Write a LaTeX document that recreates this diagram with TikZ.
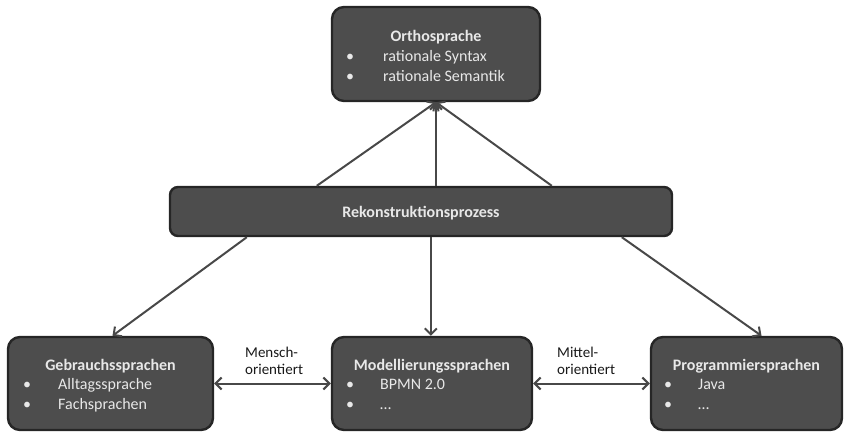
\documentclass[tikz,border=0pt]{standalone}
\usepackage{fontspec}
\setmainfont{Carlito}
\usetikzlibrary{arrows.meta,calc}
\definecolor{boxfill}{RGB}{77,77,77}
\definecolor{boxline}{RGB}{38,38,38}
\definecolor{txt}{RGB}{232,232,232}
\definecolor{arrowc}{RGB}{72,72,72}
\definecolor{lbltxt}{RGB}{25,25,25}
\begin{document}
\begin{tikzpicture}[x=1pt,y=-1pt,
  box/.style={draw=boxline, fill=boxfill, line width=2.4pt, rounded corners=12pt, inner sep=0pt},
  ttl/.style={font=\fontsize{16}{19}\selectfont\bfseries, text=txt, anchor=base, inner sep=0pt},
  itm/.style={font=\fontsize{16}{19}\selectfont, text=txt, anchor=base west, inner sep=0pt},
  bul/.style={font=\fontsize{16}{19}\selectfont, text=txt, anchor=base, inner sep=0pt},
  lbl/.style={font=\fontsize{15}{18}\selectfont, text=lbltxt, anchor=base west, inner sep=0pt},
  arr/.style={draw=arrowc, line width=2pt, -{Straight Barb[length=6pt,width=12pt]}},
  darr/.style={draw=arrowc, line width=2pt, {Straight Barb[length=6pt,width=12pt]}-{Straight Barb[length=6pt,width=12pt]}},
]
\useasboundingbox (0,0) rectangle (861,431);

% boxes
\node[box, minimum width=208pt, minimum height=94pt] (ortho) at (436,54) {};
\node[box, rounded corners=8pt, minimum width=502pt, minimum height=49pt] (rekon) at (421,211.5) {};
\node[box, minimum width=205pt, minimum height=93pt] (gebr) at (110.5,383.5) {};
\node[box, minimum width=200pt, minimum height=93pt] (model) at (432,383.5) {};
\node[box, minimum width=191pt, minimum height=93pt] (prog) at (746.5,383.5) {};

% Orthosprache text
\node[ttl] (ortho-t) at (436,41.5) {Orthosprache};
\node[bul] (ortho-b1) at (350,61.5) {•};
\node[itm] (ortho-i1) at (383,61.5) {rationale Syntax};
\node[bul] (ortho-b2) at (350,81) {•};
\node[itm] (ortho-i2) at (383,81) {rationale Semantik};

% Rekonstruktionsprozess
\node[ttl] (rekon-t) at (421,217) {Rekonstruktionsprozess};

% Gebrauchssprachen
\node[ttl] (gebr-t) at (110.5,370) {Gebrauchssprachen};
\node[bul] (gebr-b1) at (27,389.5) {•};
\node[itm] (gebr-i1) at (58,389.5) {Alltagssprache};
\node[bul] (gebr-b2) at (27,409.5) {•};
\node[itm] (gebr-i2) at (58,409.5) {Fachsprachen};

% Modellierungssprachen
\node[ttl] (model-t) at (432,370) {Modellierungssprachen};
\node[bul] (model-b1) at (350,389.5) {•};
\node[itm] (model-i1) at (380,389.5) {BPMN 2.0};
\node[bul] (model-b2) at (350,409.5) {•};
\node[itm] (model-i2) at (380,409.5) {…};

% Programmiersprachen
\node[ttl] (prog-t) at (746.5,370) {Programmiersprachen};
\node[bul] (prog-b1) at (668,389.5) {•};
\node[itm] (prog-i1) at (698,389.5) {Java};
\node[bul] (prog-b2) at (668,409.5) {•};
\node[itm] (prog-i2) at (698,409.5) {…};

% labels
\node[lbl] (l1a) at (245,357) {Mensch-};
\node[lbl] (l1b) at (245,374) {orientiert};
\node[lbl] (l2a) at (557,357) {Mittel-};
\node[lbl] (l2b) at (557,374) {orientiert};

% connector endpoints
\coordinate (ru1) at ($(rekon.north west)+(148,0)$);
\coordinate (ru3) at ($(rekon.north west)+(383,0)$);
\coordinate (rd1) at ($(rekon.south west)+(78,0)$);
\coordinate (rd2) at ($(rekon.south west)+(262,0)$);
\coordinate (rd3) at ($(rekon.south west)+(453,0)$);
\coordinate (pn) at ($(prog.north)+(15,0)$);
\coordinate (gn) at ($(gebr.north)+(2,0)$);

% arrows
\draw[arr] (ru1) -- (ortho.south);
\draw[arr] (ortho.south |- rekon.north) -- (ortho.south);
\draw[arr] (ru3) -- (ortho.south);
\draw[arr] (rd1) -- (gn);
\draw[arr] (rd2) -- (rd2 |- model.north);
\draw[arr] (rd3) -- (pn);
\draw[darr] (gebr.east) -- (model.west);
\draw[darr] (model.east) -- (prog.west);
\end{tikzpicture}
\end{document}
